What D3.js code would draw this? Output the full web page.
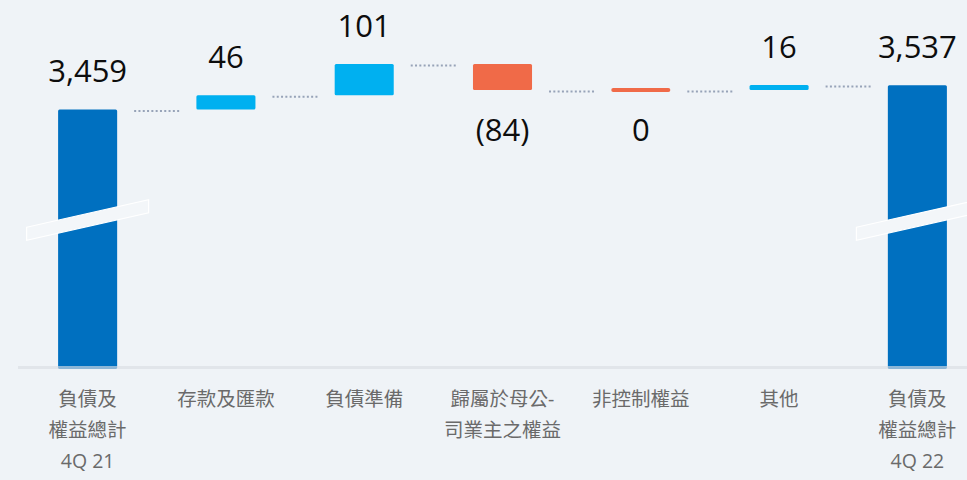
<!DOCTYPE html>
<html>
<head>
<meta charset="utf-8">
<script src="https://cdn.jsdelivr.net/npm/d3@7"></script>
<style>
  html, body { margin: 0; padding: 0; background: #eff3f7; }
  svg { display: block; }
</style>
</head>
<body>
<svg id="chart" width="967" height="480"></svg>
<script>
const categories = [
  ["負債及", "權益總計", "4Q 21"],
  ["存款及匯款"],
  ["負債準備"],
  ["歸屬於母公-", "司業主之權益"],
  ["非控制權益"],
  ["其他"],
  ["負債及", "權益總計", "4Q 22"]
];
const values = [3459, 46, 101, -84, 0, 16, 3537];
const valueLabels = ["3,459", "46", "101", "(84)", "0", "16", "3,537"];
const kinds = ["total", "delta", "delta", "delta", "delta", "delta", "total"];
const axisFloor = 2620; // axis is broken, bars start here

const width = 967, height = 480;
const baseY = 369, topY = 64;

// running totals for the waterfall
let running = 0;
const bars = values.map((v, i) => {
  let start, end;
  if (kinds[i] === "total") { start = axisFloor; end = v; running = v; }
  else { start = running; end = running + v; running = end; }
  return { i, v, start, end, kind: kinds[i], label: valueLabels[i], cat: categories[i] };
});

const svg = d3.select("#chart");

const x = d3.scaleBand()
  .domain(d3.range(categories.length))
  .range([18, 987])
  .paddingInner(0.573)
  .paddingOuter(0.29);

const y = d3.scaleLinear()
  .domain([axisFloor, d3.max(bars, d => Math.max(d.start, d.end))])
  .range([baseY, topY]);

const color = d => d.kind === "total" ? "#0070c0" : (d.v > 0 ? "#00b0f0" : "#f06a48");

// connectors
svg.append("g")
  .attr("stroke", "#97a3b8")
  .attr("stroke-width", 2)
  .attr("stroke-dasharray", "2,2.3")
  .selectAll("line")
  .data(bars.slice(0, -1))
  .join("line")
  .attr("x1", d => x(d.i) + x.bandwidth() + 17)
  .attr("x2", d => x(d.i + 1) - 16)
  .attr("y1", d => y(d.end) + 1.5)
  .attr("y2", d => y(d.end) + 1.5);

// bars
svg.append("g")
  .selectAll("rect")
  .data(bars)
  .join("rect")
  .attr("x", d => x(d.i))
  .attr("width", x.bandwidth())
  .attr("y", d => d.v === 0 ? y(d.end) - 2 : y(Math.max(d.start, d.end)))
  .attr("height", d => d.v === 0 ? 4 : Math.abs(y(d.start) - y(d.end)))
  .attr("rx", d => d.v === 0 ? 2 : 1.5)
  .attr("fill", color);

// baseline
svg.append("line")
  .attr("x1", 18).attr("x2", width)
  .attr("y1", baseY - 1.5).attr("y2", baseY - 1.5)
  .attr("stroke", "#d8dde4")
  .attr("stroke-opacity", 0.65)
  .attr("stroke-width", 3);

// axis break marks on the total bars
const breakY = 220, half = 61, slope = 0.225, thick = 13;
svg.append("g")
  .selectAll("polygon")
  .data(bars.filter(d => d.kind === "total"))
  .join("polygon")
  .attr("points", d => {
    const cx = x(d.i) + x.bandwidth() / 2;
    return [
      [cx - half, breakY + half * slope - thick / 2],
      [cx + half, breakY - half * slope - thick / 2],
      [cx + half, breakY - half * slope + thick / 2],
      [cx - half, breakY + half * slope + thick / 2]
    ].map(p => p.join(",")).join(" ");
  })
  .attr("fill", "#f3f6f9")
  .attr("stroke", "#ffffff")
  .attr("stroke-width", 1.2);

// value labels
svg.append("g")
  .attr("font-family", "'Open Sans', 'Segoe UI', sans-serif")
  .attr("font-size", 31)
  .attr("fill", "#0d0d0d")
  .attr("text-anchor", "middle")
  .selectAll("text")
  .data(bars)
  .join("text")
  .attr("x", d => x(d.i) + x.bandwidth() / 2)
  .attr("y", d => (d.kind === "total" || d.v > 0)
    ? y(Math.max(d.start, d.end)) - 27
    : y(Math.min(d.start, d.end)) + 51)
  .text(d => d.label);

// category labels
const catG = svg.append("g")
  .attr("font-family", "'Open Sans', 'Noto Sans CJK TC', sans-serif")
  .attr("font-size", 19.5)
  .attr("fill", "#6a6a6a")
  .attr("text-anchor", "middle");

catG.selectAll("text")
  .data(bars)
  .join("text")
  .attr("x", d => x(d.i) + x.bandwidth() / 2)
  .selectAll("tspan")
  .data(d => d.cat.map((t, k) => ({ t, k, cx: x(d.i) + x.bandwidth() / 2 })))
  .join("tspan")
  .attr("x", t => t.cx)
  .attr("y", t => 406 + t.k * 31)
  .text(t => t.t);
</script>
</body>
</html>
